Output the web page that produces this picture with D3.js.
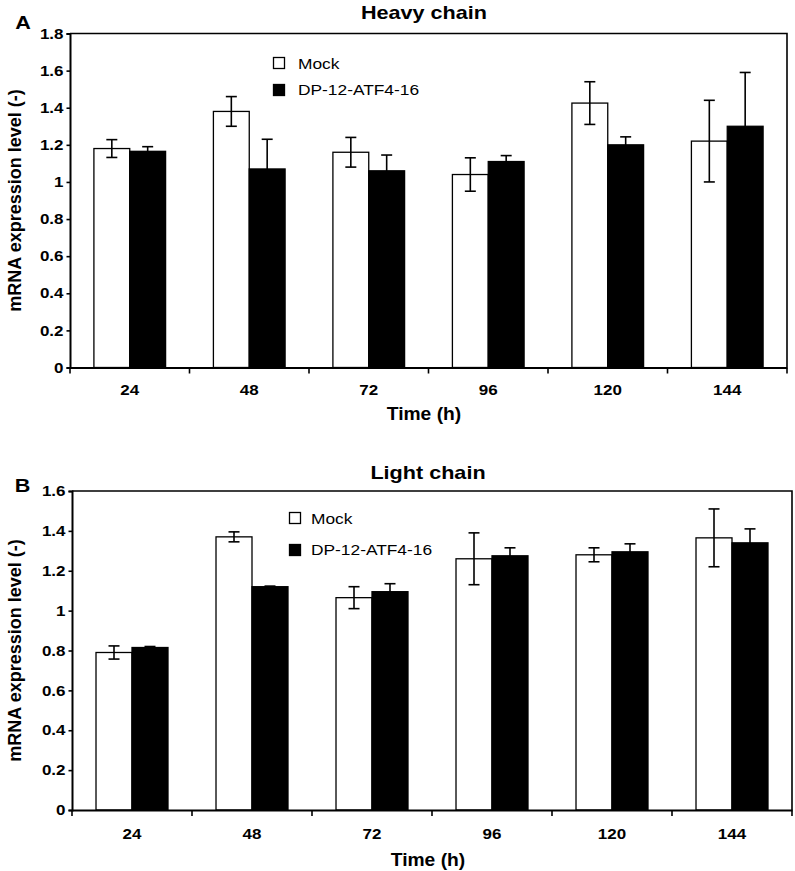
<!DOCTYPE html>
<html><head><meta charset="utf-8">
<script src="https://cdn.jsdelivr.net/npm/d3@7"></script>
<style>body{margin:0;background:#fff}svg{display:block}text{font-family:"Liberation Sans",Arial,sans-serif}</style>
</head><body>
<svg id="c" width="795" height="871"></svg>
<script>
const categories = ["24","48","72","96","120","144"];
const seriesNames = ["Mock","DP-12-ATF4-16"];
// Panel A – Heavy chain
const heavyMock    = [1.18, 1.38, 1.16, 1.04, 1.425, 1.22];
const heavyMockErr = [0.048, 0.08, 0.08, 0.09, 0.115, 0.22];
const heavyDP      = [1.165, 1.07, 1.06, 1.11, 1.20, 1.30];
const heavyDPErr   = [0.025, 0.16, 0.085, 0.032, 0.043, 0.29];
const heavyTicks   = [0, 0.2, 0.4, 0.6, 0.8, 1, 1.2, 1.4, 1.6, 1.8];
// Panel B – Light chain
const lightMock    = [0.79, 1.37, 1.065, 1.26, 1.28, 1.365];
const lightMockErr = [0.033, 0.025, 0.055, 0.13, 0.035, 0.145];
const lightDP      = [0.815, 1.12, 1.095, 1.275, 1.295, 1.34];
const lightDPErr   = [0.005, 0.003, 0.04, 0.04, 0.04, 0.07];
const lightTicks   = [0, 0.2, 0.4, 0.6, 0.8, 1, 1.2, 1.4, 1.6];

const svg = d3.select("#c");
const K = 1.17; // horizontal stretch of the original typesetting

function stretch(sel, k, origin){
  sel.style("transform-box","fill-box").style("transform-origin", origin || "50% 50%")
     .style("transform", `scaleX(${k})`);
}

function panel(cfg){
  const g = svg.append("g");
  const x = d3.scaleBand().domain(categories).range([cfg.left, cfg.right]).padding(0);
  const x1 = d3.scaleBand().domain(seriesNames).range([0, x.bandwidth()]).paddingInner(0).paddingOuter(0.667);
  const y = d3.scaleLinear().domain([0, cfg.ymax]).range([cfg.bottom, cfg.top]);

  const data = [];
  categories.forEach((c,i)=>{
    data.push({c, s:seriesNames[0], v:cfg.mock[i], e:cfg.mockErr[i], fill:"#fff"});
    data.push({c, s:seriesNames[1], v:cfg.dp[i], e:cfg.dpErr[i], fill:"#000"});
  });
  g.selectAll("rect.bar").data(data).join("rect")
    .attr("x", d=>x(d.c)+x1(d.s)).attr("width", x1.bandwidth())
    .attr("y", d=>y(d.v)).attr("height", d=>y(0)-y(d.v))
    .attr("fill", d=>d.fill).attr("stroke","#000").attr("stroke-width",1.3);
  const cap = 5.5;
  const cx = d=>x(d.c)+x1(d.s)+x1.bandwidth()/2;
  const eb = g.selectAll("g.eb").data(data).join("g");
  eb.append("line").attr("x1", cx).attr("x2", cx)
    .attr("y1", d=>y(d.v+d.e)).attr("y2", d=>y(d.v-d.e)).attr("stroke","#000").attr("stroke-width",1.6);
  eb.append("line").attr("x1", d=>cx(d)-cap).attr("x2", d=>cx(d)+cap)
    .attr("y1", d=>y(d.v+d.e)).attr("y2", d=>y(d.v+d.e)).attr("stroke","#000").attr("stroke-width",1.6);
  eb.append("line").attr("x1", d=>cx(d)-cap).attr("x2", d=>cx(d)+cap)
    .attr("y1", d=>y(d.v-d.e)).attr("y2", d=>y(d.v-d.e)).attr("stroke","#000").attr("stroke-width",1.6);

  g.append("path").attr("d", `M${cfg.left},${cfg.top}H${cfg.right}V${cfg.bottom}`)
    .attr("fill","none").attr("stroke","#000").attr("stroke-width",1.6);

  const ya = g.append("g").attr("transform",`translate(${cfg.left},0)`)
    .call(d3.axisLeft(y).tickValues(cfg.ticks).tickSize(3.5).tickPadding(3).tickFormat(d=>String(+d.toFixed(1))));
  ya.select(".domain").attr("stroke-width",2);
  ya.selectAll(".tick line").attr("stroke-width",1.6);
  ya.selectAll("text").attr("font-size",14.5).attr("font-weight","bold").attr("fill","#000").attr("font-family",null)
    .call(stretch, K, "100% 50%");

  const xa = g.append("g").attr("transform",`translate(0,${cfg.bottom})`)
    .call(d3.axisBottom(x).tickSize(0));
  xa.select(".domain").attr("stroke-width",2);
  xa.selectAll("text").attr("font-size",14.5).attr("font-weight","bold").attr("fill","#000")
    .attr("y", cfg.xlabOff).attr("dy",0).call(stretch, K);
  const bounds = categories.map(c=>x(c)).concat([cfg.right]);
  xa.selectAll("line.bt").data(bounds).join("line").attr("class","bt")
    .attr("x1",d=>d).attr("x2",d=>d).attr("y1",0).attr("y2",6).attr("stroke","#000").attr("stroke-width",1.6);
  xa.attr("font-family",null);

  g.append("text").attr("x",cfg.titleX).attr("y",cfg.titleY).attr("text-anchor","middle")
    .attr("font-size",18).attr("font-weight","bold").text(cfg.title).call(stretch, 1.2);
  g.append("text").attr("x",cfg.letterX).attr("y",cfg.letterY).attr("text-anchor","middle")
    .attr("font-size",18).attr("font-weight","bold").text(cfg.letter).call(stretch, 1.2);
  g.append("text").attr("x",cfg.titleX).attr("y",cfg.timeY).attr("text-anchor","middle")
    .attr("font-size",17.5).attr("font-weight","bold").text("Time (h)").call(stretch, 1.1);
  g.append("text").attr("transform",`translate(21,${(cfg.top+cfg.bottom)/2}) rotate(-90)`)
    .attr("text-anchor","middle").attr("font-size",18).attr("font-weight","bold").text("mRNA expression level (-)");

  const lg = g.append("g").attr("transform",`translate(${cfg.legX},${cfg.legY})`);
  const items = [{n:seriesNames[0],f:"#fff"},{n:seriesNames[1],f:"#000"}];
  items.forEach((it,i)=>{
    lg.append("rect").attr("x",0.5).attr("y",i*cfg.legGap+0.5).attr("width",11).attr("height",11)
      .attr("fill",it.f).attr("stroke","#000").attr("stroke-width",1.3);
    lg.append("text").attr("x",cfg.legText).attr("y",i*cfg.legGap+11.5).attr("font-size",15.5).text(it.n)
      .call(stretch, 1.12, "0% 50%");
  });
}

panel({left:70, right:787, top:33.5, bottom:367.5, ymax:1.8, ticks:heavyTicks,
  mock:heavyMock, mockErr:heavyMockErr, dp:heavyDP, dpErr:heavyDPErr, xlabOff:28,
  title:"Heavy chain", titleX:424, titleY:19.5, timeY:420, letter:"A", letterX:23, letterY:29,
  legX:273, legY:57, legGap:27, legText:25});
panel({left:72, right:792, top:491, bottom:810, ymax:1.6, ticks:lightTicks,
  mock:lightMock, mockErr:lightMockErr, dp:lightDP, dpErr:lightDPErr, xlabOff:29,
  title:"Light chain", titleX:428, titleY:479, timeY:866, letter:"B", letterX:22.5, letterY:492,
  legX:289, legY:512, legGap:32, legText:22});
</script>
</body></html>
